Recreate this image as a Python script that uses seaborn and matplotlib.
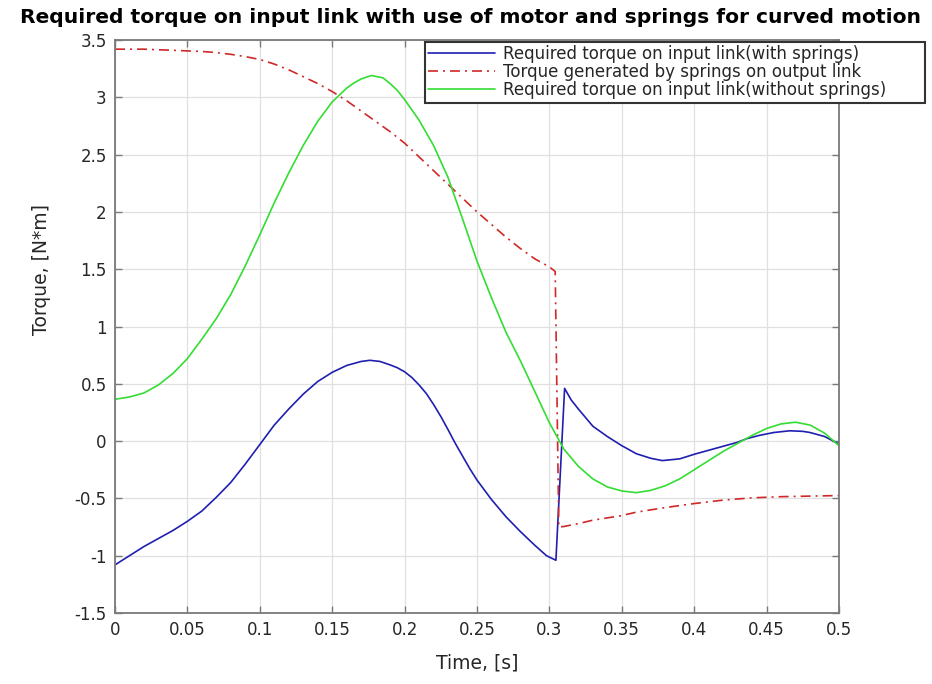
import matplotlib
matplotlib.use("Agg")
import matplotlib.pyplot as plt
from matplotlib.ticker import FuncFormatter, MultipleLocator
import pandas as pd
import seaborn as sns

# Required torque on the input link, with springs fitted
t_with = [0.0, 0.01, 0.02, 0.03, 0.04, 0.05, 0.06, 0.07, 0.08, 0.09, 0.10,
          0.11, 0.12, 0.13, 0.14, 0.15, 0.16, 0.17, 0.176, 0.183, 0.19, 0.195,
          0.20, 0.205, 0.21, 0.215, 0.22, 0.225, 0.23, 0.235, 0.24, 0.245,
          0.25, 0.26, 0.27, 0.28, 0.29, 0.298, 0.3045, 0.3105, 0.315, 0.32,
          0.33, 0.34, 0.35, 0.36, 0.37, 0.378, 0.39, 0.40, 0.41, 0.42, 0.43,
          0.436, 0.445, 0.455, 0.466, 0.475, 0.48, 0.49, 0.50]
tq_with = [-1.08, -1.00, -0.92, -0.85, -0.78, -0.70, -0.61, -0.49, -0.36, -0.20, -0.03,
           0.14, 0.28, 0.41, 0.52, 0.60, 0.66, 0.695, 0.705, 0.695, 0.665, 0.64,
           0.605, 0.555, 0.49, 0.415, 0.32, 0.215, 0.10, -0.02, -0.13, -0.24,
           -0.34, -0.51, -0.66, -0.79, -0.91, -1.00, -1.04, 0.46, 0.36, 0.28,
           0.13, 0.04, -0.04, -0.11, -0.15, -0.17, -0.155, -0.115, -0.08, -0.045, -0.01,
           0.02, 0.05, 0.075, 0.09, 0.085, 0.075, 0.04, -0.025]

# Torque generated by the springs on the output link
t_spring = [0.0, 0.02, 0.04, 0.05, 0.06, 0.07, 0.08, 0.09, 0.10, 0.11, 0.12,
            0.13, 0.14, 0.15, 0.16, 0.17, 0.18, 0.19, 0.20, 0.21, 0.22, 0.23,
            0.24, 0.25, 0.26, 0.27, 0.28, 0.29, 0.30, 0.304, 0.3065, 0.31,
            0.32, 0.33, 0.34, 0.35, 0.36, 0.38, 0.40, 0.42, 0.44, 0.46, 0.48, 0.50]
tq_spring = [3.42, 3.42, 3.41, 3.405, 3.40, 3.39, 3.375, 3.355, 3.33, 3.29, 3.24,
             3.18, 3.12, 3.05, 2.97, 2.88, 2.79, 2.70, 2.60, 2.48, 2.36, 2.24,
             2.12, 2.00, 1.89, 1.78, 1.68, 1.59, 1.52, 1.48, -0.75, -0.745,
             -0.72, -0.69, -0.67, -0.65, -0.62, -0.58, -0.545, -0.515, -0.495, -0.485, -0.48, -0.475]

# Required torque on the input link, without springs
t_without = [0.0, 0.01, 0.02, 0.03, 0.04, 0.05, 0.06, 0.07, 0.08, 0.09, 0.10,
             0.11, 0.12, 0.13, 0.14, 0.15, 0.16, 0.165, 0.17, 0.177, 0.185, 0.19,
             0.195, 0.20, 0.21, 0.22, 0.23, 0.24, 0.25, 0.26, 0.27, 0.28, 0.29,
             0.30, 0.31, 0.32, 0.33, 0.34, 0.35, 0.36, 0.37, 0.38, 0.39, 0.40,
             0.41, 0.42, 0.43, 0.44, 0.45, 0.46, 0.47, 0.48, 0.49, 0.50]
tq_without = [0.365, 0.385, 0.42, 0.49, 0.59, 0.72, 0.89, 1.07, 1.28, 1.53, 1.80,
              2.08, 2.34, 2.58, 2.79, 2.96, 3.08, 3.125, 3.16, 3.19, 3.17, 3.12,
              3.06, 2.98, 2.80, 2.58, 2.30, 1.94, 1.57, 1.25, 0.95, 0.70, 0.43,
              0.16, -0.07, -0.22, -0.33, -0.40, -0.435, -0.45, -0.43, -0.39, -0.33, -0.25,
              -0.17, -0.09, -0.02, 0.05, 0.11, 0.15, 0.165, 0.14, 0.07, -0.04]

labels = ["Required torque on input link(with springs)",
          "Torque generated by springs on output link",
          "Required torque on input link(without springs)"]

x_ticks = [0, 0.05, 0.1, 0.15, 0.2, 0.25, 0.3, 0.35, 0.4, 0.45, 0.5]

sns.set_theme(style="whitegrid")
plt.rcParams["font.family"] = ["DejaVu Sans"]
plt.rcParams["axes.unicode_minus"] = False

W, H = 932, 684
fig = plt.figure(figsize=(W / 100, H / 100), dpi=100)
ax = fig.add_axes([115 / W, 1 - 613 / H, 724 / W, 573 / H])
ax.set_facecolor("white")

df_with = pd.DataFrame({"t": t_with, "torque": tq_with})
df_spring = pd.DataFrame({"t": t_spring, "torque": tq_spring})
df_without = pd.DataFrame({"t": t_without, "torque": tq_without})

sns.lineplot(data=df_with, x="t", y="torque", ax=ax, color="#1f1fb0",
             lw=1.2, estimator=None, label=labels[0])
sns.lineplot(data=df_spring, x="t", y="torque", ax=ax, color="#d02828",
             lw=1.2, estimator=None, label=labels[1],
             linestyle=(0, (6, 3, 1.2, 3)))
sns.lineplot(data=df_without, x="t", y="torque", ax=ax, color="#33dd33",
             lw=1.2, estimator=None, label=labels[2])

ax.set_xlim(0, 0.5)
ax.set_ylim(-1.5, 3.5)
ax.set_xticks(x_ticks)
ax.yaxis.set_major_locator(MultipleLocator(0.5))
fmt = FuncFormatter(lambda v, _: f"{v:g}")
ax.xaxis.set_major_formatter(fmt)
ax.yaxis.set_major_formatter(fmt)

ax.grid(True, color="#e0e0e0", lw=0.9)
for sp in ax.spines.values():
    sp.set_visible(True)
    sp.set_color("#7a7a7a")
    sp.set_linewidth(1.3)
ax.tick_params(axis="both", which="major", direction="in", length=5, width=1,
               color="#7a7a7a", labelsize=12, labelcolor="#262626",
               top=True, right=True, bottom=True, left=True, pad=6)

ax.set_xlabel("Time, [s]", fontsize=13.5, color="#262626", va="top")
ax.xaxis.set_label_coords(0.5, -0.07)
ax.set_ylabel("Torque, [N*m]", fontsize=13.5, color="#262626")
ax.yaxis.set_label_coords(-0.088, 0.6)
ax.set_title("Required torque on input link with use of motor and springs for curved motion",
             fontsize=14.6, fontweight="bold", color="black", pad=12,
             x=(470 - 115) / 724)

leg = ax.legend(loc="upper left",
                bbox_to_anchor=(425 / W, 1 - 106 / H, 500 / W, 64 / H),
                bbox_transform=fig.transFigure, mode="expand",
                fontsize=12, frameon=True, fancybox=False, framealpha=1,
                edgecolor="#333333", handlelength=4.0, labelspacing=0.0,
                borderpad=0.2, handletextpad=0.5, borderaxespad=0)
leg.get_frame().set_linewidth(1.5)

fig.savefig("out.png", dpi=100)
